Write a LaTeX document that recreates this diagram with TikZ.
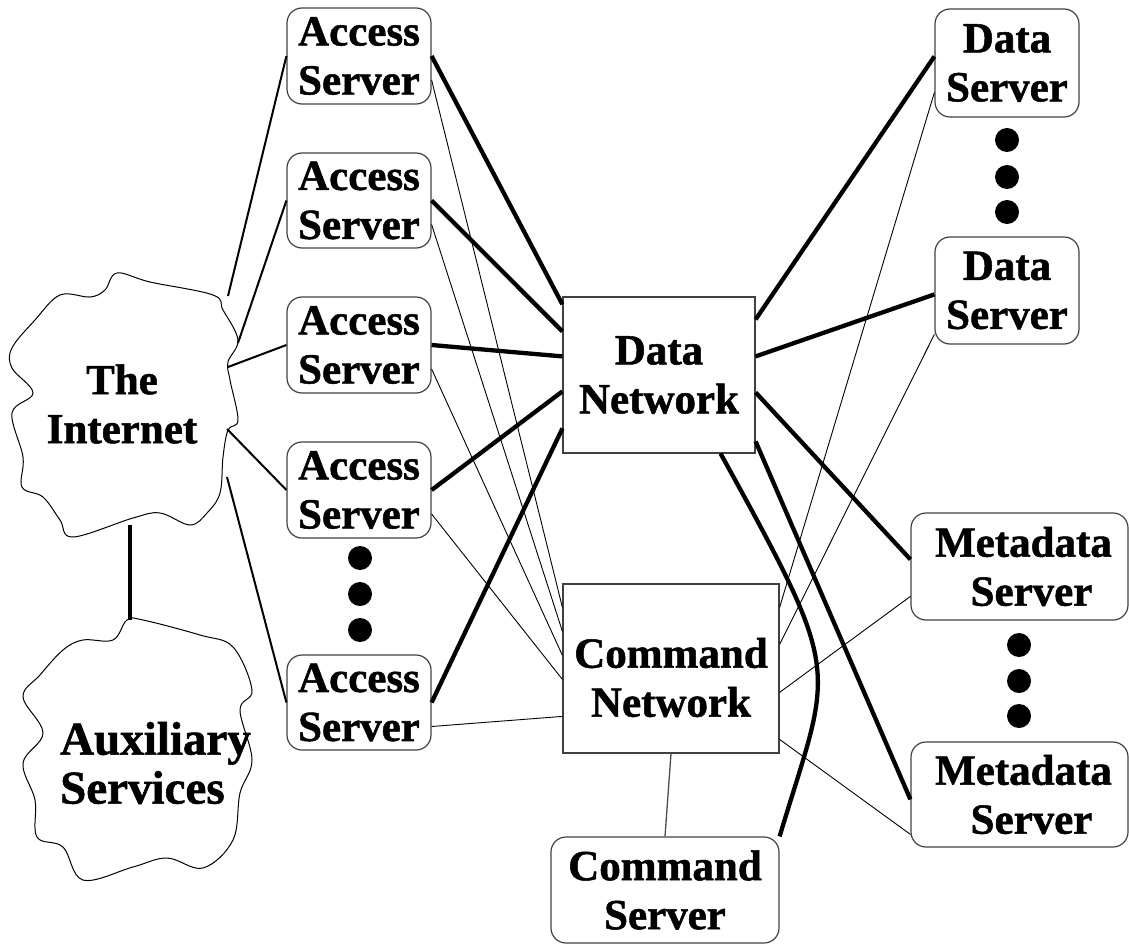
\documentclass[tikz,border=0pt]{standalone}
\usepackage{fontspec}
\setmainfont{Liberation Serif}[BoldFeatures={FakeBold=1.2}]
\begin{document}
\begin{tikzpicture}[x=1pt,y=-1pt,
  every node/.style={font=\fontsize{43}{49}\selectfont\bfseries, align=center, inner sep=0pt},
  srv/.style={draw=black!75, line width=1.2pt, rounded corners=15pt},
  netbox/.style={draw=black!75, line width=1.2pt},
  fat/.style={line width=4.3pt},
  medline/.style={line width=2pt},
  fine/.style={line width=0.9pt},
  greyline/.style={draw=black!70, line width=1.3pt},
  cloud/.style={line width=1pt},
  dot/.style={circle, fill=black, minimum size=24pt, inner sep=0pt}
]
\useasboundingbox (0,0) rectangle (1129,944);

% clouds
\draw[cloud] plot[smooth cycle, tension=0.6] coordinates {
  (12,348) (35,320) (60,295) (90,297) (105,290) (117,273) (150,282) (213,295)
  (223,310) (238,340) (228,362) (230,380) (238,420) (228,430) (223,457)
  (220,493) (207,513) (190,525) (160,513) (133,518) (73,537) (60,520)
  (43,497) (22,487) (23,457) (12,413) (33,393) (12,368)};
\node (inet) at (122,404) {The\\Internet};

\draw[cloud] plot[smooth cycle, tension=0.6] coordinates {
  (127,620) (113,640) (83,640) (63,650) (40,675) (23,697) (43,733) (23,763)
  (35,800) (37,837) (63,847) (83,880) (133,867) (167,858) (203,868)
  (233,840) (240,793) (252,760) (240,710) (252,690) (233,647) (200,635) (143,620)};
\node[anchor=west, align=left, font=\fontsize{47}{49}\selectfont\bfseries] (aux) at (60,763) {Auxiliary\\Services};

% access servers
\node[srv, minimum width=144pt, minimum height=96pt] (a1) at (359,56) {Access\\Server};
\node[srv, minimum width=144pt, minimum height=95pt] (a2) at (359,200.5) {Access\\Server};
\node[srv, minimum width=144pt, minimum height=96pt] (a3) at (359,345) {Access\\Server};
\node[srv, minimum width=144pt, minimum height=96pt] (a4) at (359,490) {Access\\Server};
\node[srv, minimum width=144pt, minimum height=95pt] (a5) at (359,702.5) {Access\\Server};
\node[dot] (ad1) at (360,558) {};
\node[dot] (ad2) at (360,594) {};
\node[dot] (ad3) at (360,630) {};

% networks
\node[netbox, minimum width=192pt, minimum height=156pt] (dn) at (659,375) {Data\\Network};
\node[netbox, minimum width=216pt, minimum height=169pt,
  label={[yshift=-9pt]center:Command\\Network}] (cn) at (671,668.5) {};

% data servers
\node[srv, minimum width=144pt, minimum height=108pt] (ds1) at (1007,63) {Data\\Server};
\node[srv, minimum width=144pt, minimum height=107pt] (ds2) at (1007,290.5) {Data\\Server};
\node[dot] (dd1) at (1007,140) {};
\node[dot] (dd2) at (1007,177) {};
\node[dot] (dd3) at (1007,212) {};

% metadata servers
\node[srv, minimum width=217pt, minimum height=107pt,
  label={[xshift=4pt]center:Metadata\\\hspace*{16pt}Server}] (ms1) at (1019.5,566.5) {};
\node[srv, minimum width=217pt, minimum height=105pt,
  label={[xshift=4pt]center:Metadata\\\hspace*{16pt}Server}] (ms2) at (1019.5,794.5) {};
\node[dot] (md1) at (1019,645) {};
\node[dot] (md2) at (1019,681) {};
\node[dot] (md3) at (1019,716) {};

% command server
\node[srv, minimum width=228pt, minimum height=106pt] (cs) at (665,890) {Command\\Server};

% internet connections
\coordinate (i1) at (228,296);
\coordinate (i2) at (238,343);
\coordinate (i3) at (228,367);
\coordinate (i4) at (227,429);
\coordinate (i5) at (227,477);
\draw[medline] (i1) -- (a1.west);
\draw[medline] (i2) -- (a2.west);
\draw[medline] (i3) -- (a3.west);
\draw[medline] (i4) -- (a4.west);
\draw[medline] (i5) -- (a5.west);
\coordinate (ib) at (130,525);
\coordinate (at) at (130,620);
\draw[fat] (ib) -- (at);

% access -> data network
\draw[fat] (a1.east) -- ([yshift=-8pt]dn.north west);
\draw[fat] (a2.east) -- ([yshift=-35pt]dn.north west);
\draw[fat] (a3.east) -- ([yshift=-60pt]dn.north west);
\draw[fat] (a4.east) -- ([yshift=-95pt]dn.north west);
\draw[fat] (a5.east) -- ([yshift=-132pt]dn.north west);

% access -> command network
\draw[fine] ([yshift=-24pt]a1.east) -- ([yshift=-24pt]cn.north west);
\draw[fine] ([yshift=-24pt]a2.east) -- ([yshift=-48pt]cn.north west);
\draw[fine] ([yshift=-24pt]a3.east) -- ([yshift=-72pt]cn.north west);
\draw[fine] ([yshift=-24pt]a4.east) -- ([yshift=-96pt]cn.north west);
\draw[fine] ([yshift=-24pt]a5.east) -- ([yshift=-133pt]cn.north west);

% data network -> servers
\draw[fat] ([yshift=-23pt]dn.north east) -- ([yshift=-48pt]ds1.north west);
\draw[fat] ([yshift=-60pt]dn.north east) -- ([yshift=-58pt]ds2.north west);
\draw[fat] ([yshift=-96pt]dn.north east) -- ([yshift=-47pt]ms1.north west);
\draw[fat] ([yshift=-145pt]dn.north east) -- ([yshift=-58pt]ms2.north west);
\draw[fat] ([xshift=-35pt]dn.south east) .. controls (846,681) and (832,662) .. (cs.north east);

% command network -> servers
\draw[fine] ([yshift=-24pt]cn.north east) -- ([yshift=-84pt]ds1.north west);
\draw[fine] ([yshift=-61pt]cn.north east) -- ([yshift=-98pt]ds2.north west);
\draw[fine] ([yshift=-109pt]cn.north east) -- ([yshift=-84pt]ms1.north west);
\draw[fine] ([yshift=-156pt]cn.north east) -- ([yshift=-93pt]ms2.north west);
\draw[greyline] (cn.south) -- (cs.north);
\end{tikzpicture}
\end{document}
